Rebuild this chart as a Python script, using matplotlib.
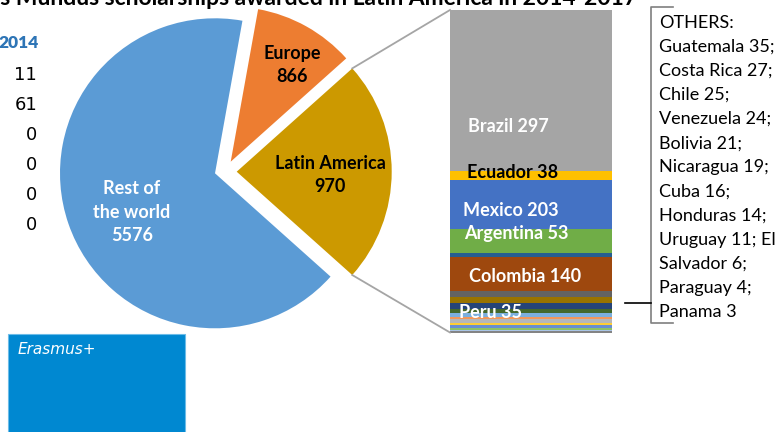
import matplotlib
matplotlib.use("Agg")
import matplotlib.pyplot as plt
from matplotlib.patches import Rectangle
import numpy as np

W, H = 777, 432

# ---------------- data ----------------
title = "Erasmus Mundus scholarships awarded in Latin America in 2014-2017"

pie_labels = ["Latin America", "Europe", "Rest of\nthe world"]
pie_values = [970, 866, 5576]
# angular shares of the slices as drawn in the picture (degrees)
pie_angles = [83.6, 38.0, 238.4]
pie_colors = ["#CC9900", "#ED7D31", "#5B9BD5"]
pie_text_colors = ["black", "black", "white"]

bar_countries = ["Brazil", "Ecuador", "Mexico", "Argentina", "", "Colombia",
                 "", "", "", "Peru", "", "", "", "", "", "", "", ""]
bar_label_values = [297, 38, 203, 53, None, 140, None, None, None, 35,
                    None, None, None, None, None, None, None, None]
# segment sizes as drawn (top to bottom, relative units)
bar_sizes = [160.7, 9.3, 49.0, 23.7, 4.0, 34.3, 5.7, 5.8, 6.5, 3.5,
             4.2, 2.6, 4.0, 2.0, 2.4, 1.8, 1.5, 1.5]
bar_colors = ["#A5A5A5", "#FFC000", "#4472C4", "#70AD47", "#255E91", "#9E480E",
              "#636363", "#997300", "#264478", "#43682B", "#7CAFDD", "#F1975A",
              "#B7B7B7", "#FFCD33", "#698ED0", "#8CC168", "#A9C4E6", "#848484"]
bar_text_colors = ["white", "black", "white", "white", None, "white",
                   None, None, None, "white", None, None, None, None, None, None, None, None]

others_lines = ["OTHERS:", "Guatemala 35;", "Costa Rica 27;", "Chile 25;",
                "Venezuela 24;", "Bolivia 21;", "Nicaragua 19;", "Cuba 16;",
                "Honduras 14;", "Uruguay 11; El", "Salvador 6;", "Paraguay 4;",
                "Panama 3"]

table_header = "2014"
table_values = ["11", "61", "0", "0", "0", "0"]

# ---------------- figure ----------------
fig = plt.figure(figsize=(W / 100, H / 100), dpi=100)

# bar axes (drawn underneath the main overlay axes)
bx0, bx1 = 450, 612
by0, by1 = 10, 332.5
total = sum(bar_sizes)
bax = fig.add_axes([bx0 / W, 1 - by1 / H, (bx1 - bx0) / W, (by1 - by0) / H])
bax.set_xlim(-0.5, 0.5)
bax.set_ylim(0, total)
bax.axis("off")
bottoms = total - np.cumsum(bar_sizes)
bax.bar([0] * len(bar_sizes), bar_sizes, bottom=bottoms, width=1.0,
        color=bar_colors, linewidth=0)

ax = fig.add_axes([0, 0, 1, 1])
ax.set_zorder(2)
ax.patch.set_alpha(0)


def Y(y):
    return H - y


FB = "Lato"

# pie
pc = (215, Y(173.3))
R = 155
wedges, _ = ax.pie(pie_angles, colors=pie_colors, startangle=-41.8,
                   counterclock=True, center=pc, radius=R,
                   wedgeprops=dict(linewidth=0))
shifts = [(21.7, 1.6), (15.7, 11.6), (0, 0)]
for w, s in zip(wedges, shifts):
    w.set_center((pc[0] + s[0], pc[1] + s[1]))
ax.set_xlim(0, W)
ax.set_ylim(0, H)
ax.set_aspect("equal")
ax.axis("off")

# title (cut at the top, as in the reference)
ax.text(637, Y(5), title, ha="right", va="baseline", fontsize=16.5,
        fontweight="bold", family=FB, color="black")

# left table fragment
ax.text(39, Y(43), table_header, ha="right", va="center", fontsize=12.5,
        fontweight="heavy", family=FB, color="#2E75B6")
for i, v in enumerate(table_values):
    ax.text(37, Y(75 + 30 * i), v, ha="right", va="center", fontsize=13,
            family="DejaVu Sans", color="black")

label_pos = [(330, 175), (292, 65), (132, 212)]
for lab, val, col, (x, y) in zip(pie_labels, pie_values, pie_text_colors, label_pos):
    ax.text(x, Y(y), f"{lab}\n{val}", ha="center", va="center", fontsize=13,
            fontweight="bold", family=FB, color=col, linespacing=1.45)

bar_label_pos = {0: (468, 126.7), 1: (467, 173), 2: (463, 210.7),
                 3: (464, 234), 5: (469, 277), 9: (459, 312)}
for i, (x, y) in bar_label_pos.items():
    ax.text(x, Y(y), f"{bar_countries[i]} {bar_label_values[i]}", ha="left",
            va="center", fontsize=13, fontweight="bold", family=FB,
            color=bar_text_colors[i])

# connector lines from Latin America slice to bar
lc = wedges[0].center
a1 = np.deg2rad(-41.8 + pie_angles[0])
a0 = np.deg2rad(-41.8)
ax.plot([lc[0] + R * np.cos(a1), bx0], [lc[1] + R * np.sin(a1), Y(by0)],
        color="#A5A5A5", lw=1.3)
ax.plot([lc[0] + R * np.cos(a0), bx0], [lc[1] + R * np.sin(a0), Y(by1)],
        color="#A5A5A5", lw=1.3)

# others bracket
ax.plot([673, 650.7, 650.7, 673], [Y(7.3), Y(7.3), Y(322.7), Y(322.7)],
        color="#7F7F7F", lw=1.2)
ax.plot([625, 650.7], [Y(303), Y(303)], color="black", lw=1.2)
for i, line in enumerate(others_lines):
    ax.text(659, Y(22.7 + 24.1 * i), line, ha="left", va="center",
            fontsize=13, family=FB, color="black")

# Erasmus+ box
ax.add_patch(Rectangle((8, Y(440)), 177, 440 - 334, facecolor="#0088D1",
                       edgecolor="#6CBCE8", lw=0.8))
ax.text(18, Y(350), "Erasmus+", ha="left", va="center", fontsize=11,
        style="italic", family="DejaVu Sans", color="white")

fig.savefig("out.png", dpi=100)
